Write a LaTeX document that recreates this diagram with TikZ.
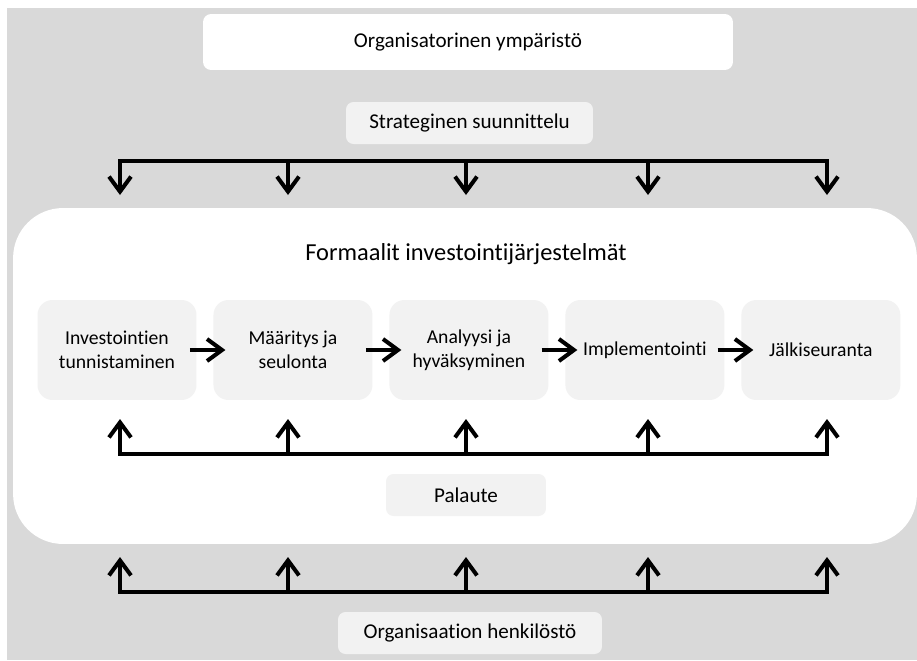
\documentclass[tikz,border=0pt]{standalone}
\usepackage{fontspec}
\setmainfont{Carlito}[Ligatures=NoCommon]
\usepackage{xcolor}
\usetikzlibrary{arrows.meta,positioning}
\definecolor{framegray}{RGB}{217,217,217}
\definecolor{boxgray}{RGB}{242,242,242}

\begin{document}
\begin{tikzpicture}[x=0.02cm, y=-0.02cm, node distance=3.52cm,
    phase/.style={rectangle, rounded corners=0.3cm, minimum width=3.18cm, minimum height=2cm, align=center, fill=boxgray, font=\fontsize{11.2}{13.4}\selectfont},
    tagbox/.style={rectangle, rounded corners=0.15cm, minimum height=0.84cm, fill=boxgray, font=\fontsize{12}{14}\selectfont},
    flow/.style={line width=2.3pt, -{Straight Barb[length=3mm,width=4.4mm]}},
    bar/.style={line width=2.3pt, line cap=rect}]

    % tausta
    \useasboundingbox (0,0) rectangle (917,660);
    \fill[framegray] (7,8) rectangle (917,660);

    % ympäristö ja suunnittelu
    \node [rectangle, rounded corners=0.16cm, fill=white, minimum width=10.6cm, minimum height=1.12cm, font=\fontsize{12}{14}\selectfont] (env) at (468,42) {Organisatorinen ympäristö};
    \node [tagbox, minimum width=4.94cm] (strategy) at (469.5,123) {Strateginen suunnittelu};

    % järjestelmä
    \node [rectangle, rounded corners=1cm, fill=white, minimum width=18.08cm, minimum height=6.72cm] (system) at (465,376) {};
    \node [font=\fontsize{13.9}{16}\selectfont] (title) at (466,254) {Formaalit investointijärjestelmät};

    % vaiheet
    \node [phase] (identify) at (117,350) {Investointien\\tunnistaminen};
    \node [phase, right of=identify] (define) {Määritys ja\\seulonta};
    \node [phase, right of=define] (analyse) {Analyysi ja\\hyväksyminen};
    \node [phase, right of=analyse] (implement) {Implementointi};
    \node [phase, right of=implement] (followup) {Jälkiseuranta};

    \draw [flow, shorten <=-4pt, shorten >=-7pt] (identify) -- (define);
    \draw [flow, shorten <=-4pt, shorten >=-7pt] (define) -- (analyse);
    \draw [flow, shorten <=-4pt, shorten >=-7pt] (analyse) -- (implement);
    \draw [flow, shorten <=-4pt, shorten >=-7pt] (implement) -- (followup);

    % palaute ja henkilöstö
    \node [tagbox, minimum width=3.2cm] (feedback) at (466,495) {Palaute};
    \node [tagbox, minimum width=5.28cm] (staff) at (470,633) {Organisaation henkilöstö};

    % nuolet
    \foreach \x [count=\i] in {120,288,466,648,827} {
        \coordinate (down\i) at (\x,161);
        \coordinate (downtip\i) at (\x,195);
        \coordinate (back\i) at (\x,454);
        \coordinate (backtip\i) at (\x,419);
        \coordinate (up\i) at (\x,592);
        \coordinate (uptip\i) at (\x,557);
        \draw [flow] (down\i) -- (downtip\i);
        \draw [flow] (back\i) -- (backtip\i);
        \draw [flow] (up\i) -- (uptip\i);
    }
    \draw [bar] (down1) -- (down5);
    \draw [bar] (back1) -- (back5);
    \draw [bar] (up1) -- (up5);
\end{tikzpicture}
\end{document}
